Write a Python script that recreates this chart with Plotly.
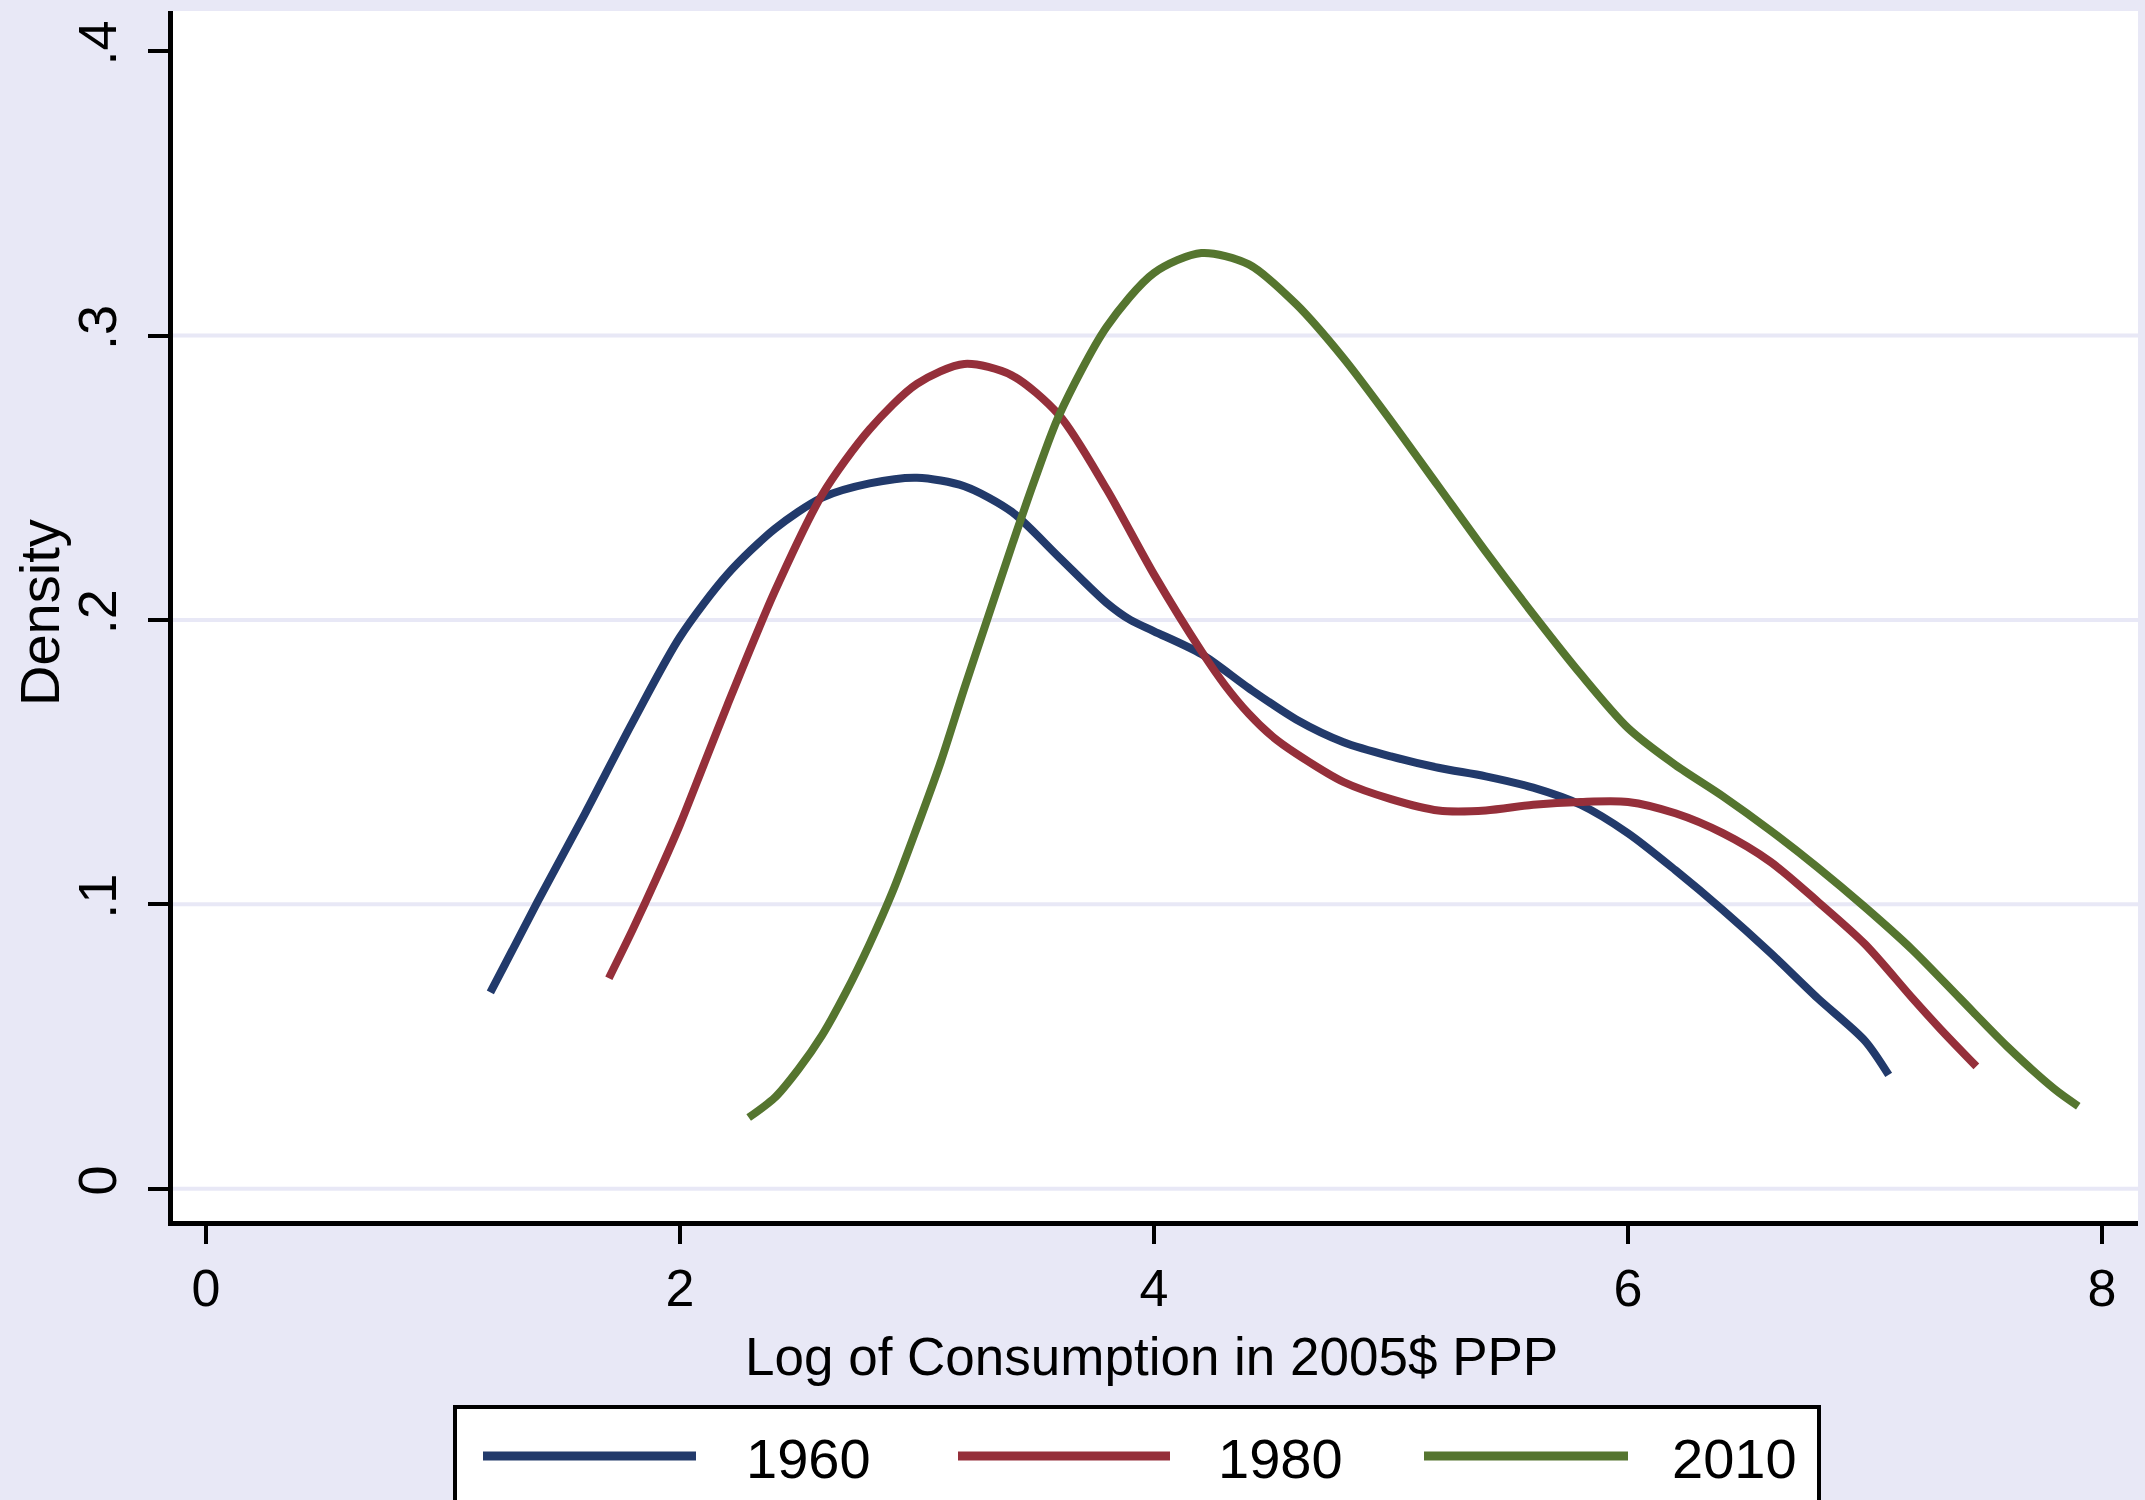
import plotly.graph_objects as go

# ---------------- data ----------------
years = ["1960", "1980", "2010"]
colors = ["#223a6b", "#952f3a", "#55752f"]

x_1960 = [1.2, 1.4, 1.6, 1.8, 2.0, 2.2, 2.4, 2.6, 2.8, 3.0, 3.2, 3.4, 3.6, 3.8,
          3.9, 4.0, 4.2, 4.4, 4.6, 4.8, 5.0, 5.2, 5.4, 5.6, 5.8, 6.0, 6.2, 6.4,
          6.6, 6.8, 7.0, 7.1]
y_1960 = [0.069, 0.101, 0.132, 0.164, 0.194, 0.216, 0.232, 0.243, 0.248, 0.250,
          0.247, 0.238, 0.222, 0.206, 0.200, 0.196, 0.188, 0.176, 0.165, 0.157,
          0.152, 0.148, 0.145, 0.141, 0.135, 0.125, 0.112, 0.098, 0.083, 0.067,
          0.052, 0.040]

x_1980 = [1.7, 1.8, 1.9, 2.0, 2.1, 2.2, 2.4, 2.6, 2.8, 3.0, 3.2, 3.4, 3.6, 3.8,
          4.0, 4.2, 4.3, 4.4, 4.5, 4.6, 4.8, 5.0, 5.2, 5.4, 5.6, 5.8, 6.0, 6.2,
          6.4, 6.6, 6.8, 7.0, 7.2, 7.32, 7.47]
y_1980 = [0.074, 0.091, 0.109, 0.128, 0.149, 0.170, 0.210, 0.244, 0.267, 0.283,
          0.290, 0.286, 0.272, 0.246, 0.216, 0.189, 0.177, 0.167, 0.159, 0.153,
          0.143, 0.137, 0.133, 0.133, 0.135, 0.136, 0.136, 0.132, 0.125, 0.115,
          0.101, 0.086, 0.067, 0.056, 0.043]

x_2010 = [2.29, 2.4, 2.5, 2.6, 2.7, 2.8, 2.9, 3.0, 3.1, 3.2, 3.3, 3.4, 3.5, 3.6,
          3.8, 4.0, 4.2, 4.4, 4.6, 4.8, 5.0, 5.2, 5.4, 5.6, 5.8, 6.0, 6.2, 6.4,
          6.6, 6.8, 7.0, 7.2, 7.4, 7.6, 7.8, 7.9]
y_2010 = [0.025, 0.032, 0.042, 0.054, 0.069, 0.086, 0.105, 0.127, 0.150, 0.176,
          0.201, 0.226, 0.250, 0.272, 0.303, 0.322, 0.329, 0.325, 0.311, 0.292,
          0.270, 0.247, 0.224, 0.202, 0.181, 0.162, 0.149, 0.138, 0.126, 0.113,
          0.099, 0.084, 0.067, 0.050, 0.035, 0.029]

x_ticks = [0, 2, 4, 6, 8]
y_ticks = [0, 0.1, 0.2, 0.3, 0.4]
y_tick_text = ["0", ".1", ".2", ".3", ".4"]
grid_vals = [0, 0.1, 0.2, 0.3]

x_title = "Log of Consumption in 2005$ PPP"
y_title = "Density"

series_x = [x_1960, x_1980, x_2010]
series_y = [y_1960, y_1980, y_2010]

# ---------------- layout geometry (pixels) ----------------
W, H = 2145, 1500
L, R, T, B = 173, 2138, 11, 1221
BG = "#e8e8f6"
FONT = "Liberation Sans, Arial, Helvetica, sans-serif"
FS = 56
FS_TICK = 52
FS_TITLE = 53


def px(xp):
    return (xp - L) / (R - L)


def py(yp):
    return (B - yp) / (B - T)


fig = go.Figure()
for name, col, xs, ys in zip(years, colors, series_x, series_y):
    fig.add_trace(go.Scatter(
        x=xs, y=ys, mode="lines", name=name, showlegend=False,
        line=dict(color=col, width=8, shape="spline", smoothing=0.8),
        hoverinfo="x+y+name",
    ))

shapes = []
for g in grid_vals:
    shapes.append(dict(type="line", xref="paper", yref="y", x0=0, x1=1,
                       y0=g, y1=g, line=dict(color=BG, width=4),
                       layer="below"))

# custom legend box (Stata style)
shapes.append(dict(type="rect", xref="paper", yref="paper",
                   x0=px(455), x1=px(1819), y0=py(1407), y1=py(1540),
                   line=dict(color="black", width=4), fillcolor="white",
                   layer="above"))
leg_line_x = [(483, 696), (958, 1170), (1424, 1628)]
leg_text_x = [808, 1280, 1734]
annotations = []
for (a, b), tx, col, name in zip(leg_line_x, leg_text_x, colors, years):
    shapes.append(dict(type="line", xref="paper", yref="paper",
                       x0=px(a), x1=px(b), y0=py(1456), y1=py(1456),
                       line=dict(color=col, width=9), layer="above"))
    annotations.append(dict(text=name, xref="paper", yref="paper",
                            x=px(tx), y=py(1458), xanchor="center",
                            yanchor="middle", showarrow=False,
                            font=dict(family=FONT, size=FS, color="black")))

annotations.append(dict(text=x_title, xref="paper", yref="paper",
                        x=px(1151), y=py(1356), xanchor="center",
                        yanchor="middle", showarrow=False,
                        font=dict(family=FONT, size=FS_TITLE, color="black")))
annotations.append(dict(text=y_title, xref="paper", yref="paper",
                        x=px(39), y=py(613), xanchor="center",
                        yanchor="middle", showarrow=False, textangle=-90,
                        font=dict(family=FONT, size=FS, color="black")))

fig.update_layout(
    width=W, height=H,
    margin=dict(l=L, r=W - R, t=T, b=H - B, pad=0),
    paper_bgcolor=BG, plot_bgcolor="white",
    font=dict(family=FONT, size=FS, color="black"),
    showlegend=False,
    shapes=shapes, annotations=annotations,
    xaxis=dict(range=[-0.139, 8.152], tickvals=x_ticks,
               ticks="outside", ticklen=18, tickwidth=4, tickcolor="black",
               showline=True, linecolor="black", linewidth=5,
               showgrid=False, zeroline=False,
               tickfont=dict(family=FONT, size=FS_TICK, color="black"),
               ticklabelstandoff=0),
    yaxis=dict(range=[-0.01136, 0.4141], tickvals=y_ticks,
               ticktext=y_tick_text, tickangle=-90,
               ticks="outside", ticklen=20, tickwidth=4, tickcolor="black",
               showline=True, linecolor="black", linewidth=5,
               showgrid=False, zeroline=False,
               tickfont=dict(family=FONT, size=FS_TICK + 2, color="black"),
               ticklabelstandoff=10),
)

fig.write_html(
    "out.html",
    config={"displayModeBar": False},
    post_script="document.body.style.margin='0';"
                "document.body.style.overflow='hidden';",
)
